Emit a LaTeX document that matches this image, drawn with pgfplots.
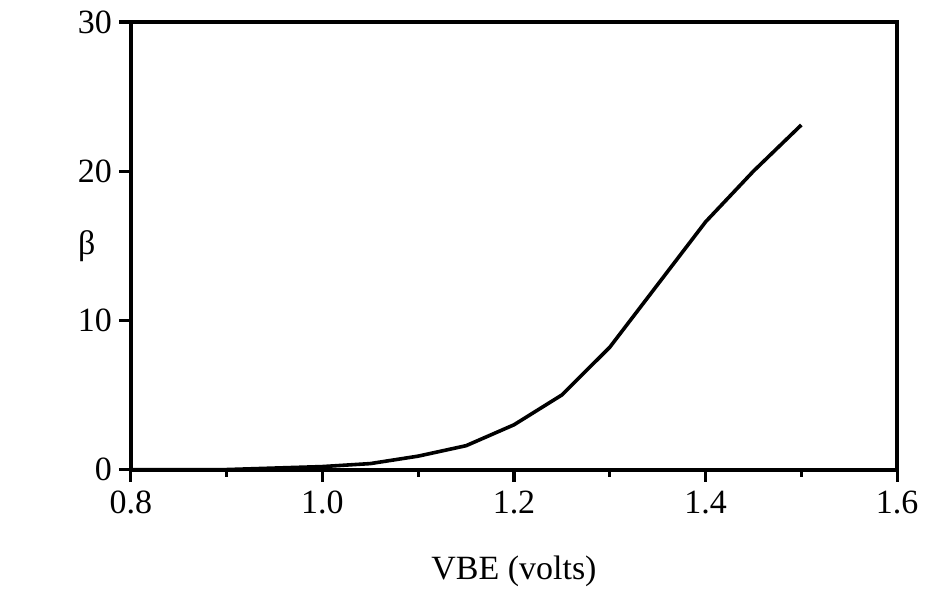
\documentclass[border=0pt]{standalone}
\usepackage{fontspec}
\setmainfont{Liberation Serif}
\usepackage{pgfplots}
\pgfplotsset{compat=1.18}
\begin{document}
\begin{tikzpicture}
  \begin{axis}[
      scale only axis,
      width=383.5pt,
      height=224pt,
      xmin=0.8, xmax=1.6,
      ymin=0, ymax=30,
      xtick={0.8,1.0,1.2,1.4,1.6},
      xticklabels={0.8,1.0,1.2,1.4,1.6},
      minor x tick num=1,
      ytick={0,10,20,30},
      tick pos=left,
      tick align=outside,
      major tick length=6pt,
      minor tick length=3.5pt,
      every tick/.style={black, line width=1.6pt},
      axis line style={line width=2pt},
      style={/pgf/number format/assume math mode=true},
      ticklabel style={font=\fontsize{17}{20}\selectfont},
      xticklabel style={yshift=-1pt},
      label style={font=\fontsize{17}{20}\selectfont},
      xlabel={VBE (volts)},
      ylabel={β},
      xlabel style={at={(axis description cs:0.5,-0.2277)}, anchor=center},
      ylabel style={rotate=-90, at={(axis description cs:-0.0574,0.5)}, anchor=center},
    ]
    \addplot[black, line width=1.8pt, mark=none] coordinates {
      (0.80,0.0) (0.85,0.0) (0.90,0.0) (0.95,0.1) (1.00,0.2) (1.05,0.4)
      (1.10,0.9) (1.15,1.6) (1.20,3.0) (1.25,5.0) (1.30,8.2) (1.35,12.4)
      (1.40,16.6) (1.45,20.0) (1.50,23.1)
    };
  \end{axis}
  \path[use as bounding box] (-65.5pt,-60pt) rectangle (397pt,235pt);
\end{tikzpicture}
\end{document}
